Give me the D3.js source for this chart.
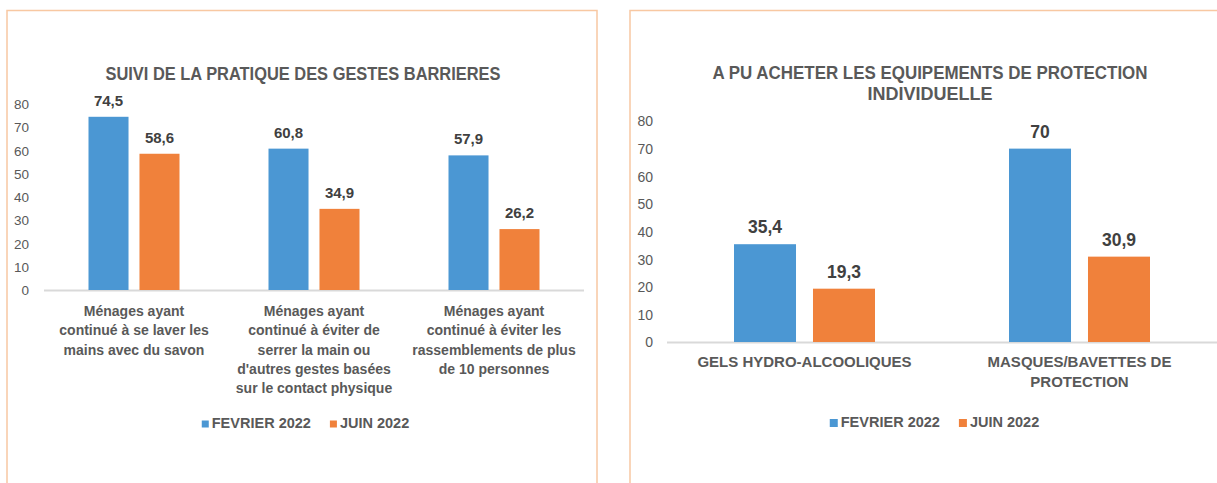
<!DOCTYPE html>
<html lang="fr">
<head>
<meta charset="UTF-8">
<title>gestes barrieres</title>
<script src="https://cdn.jsdelivr.net/npm/d3@7"></script>
<style>
    body{ margin:0; background:#fff; }
    svg{ display:block; font-family:"Liberation Sans", Arial, sans-serif; }
    .tick text{ fill:#595959; }
</style>
</head>
<body>
<svg id="fig" width="1217" height="483"></svg>
<script>
    // data
    const series = ["FEVRIER 2022", "JUIN 2022"]
    const colors = ["#4b97d3", "#f0813b"]

    const cats1 = [
        ["Ménages ayant", "continué à se laver les", "mains avec du savon"],
        ["Ménages ayant", "continué à éviter de", "serrer la main ou", "d'autres gestes basées", "sur le contact physique"],
        ["Ménages ayant", "continué à éviter les", "rassemblements de plus", "de 10 personnes"]
    ]
    const fev1 = [74.5, 60.8, 57.9]
    const juin1 = [58.6, 34.9, 26.2]

    const cats2 = [
        ["GELS HYDRO-ALCOOLIQUES"],
        ["MASQUES/BAVETTES DE", "PROTECTION"]
    ]
    const fev2 = [35.4, 70]
    const juin2 = [19.3, 30.9]

    const yTicks = [0, 10, 20, 30, 40, 50, 60, 70, 80]

    const svg = d3.select("#fig")
    const fmt = v => String(v).replace(".", ",")

    // panel frames
    function frame(x0, x1, closeRight){
        let p = d3.path()
        p.moveTo(x0, 483); p.lineTo(x0, 10.5); p.lineTo(x1, 10.5)
        if (closeRight) p.lineTo(x1, 483)
        svg.append("path").attr("d", p.toString())
            .attr("fill", "none").attr("stroke", "#f8c8a2").attr("stroke-width", 1.5)
    }
    frame(7, 597, true)
    frame(630, 1220, false)

    function chart(o){
        let g = svg.append("g")
        let data = o.cats.map((c, i) => ({cat: i, vals: [o.fev[i], o.juin[i]]}))

        let x = d3.scaleBand().domain(d3.range(o.cats.length)).range([o.x0, o.x1])
        let xs = d3.scaleBand().domain(series).range([-o.half, o.half]).paddingInner(0.215)
        let y = d3.scaleLinear().domain([0, 80]).range([o.base, o.top])

        // y axis labels
        let ax = g.append("g").attr("transform", `translate(${o.x0},0)`)
            .call(d3.axisLeft(y).tickValues(yTicks).tickSize(0).tickPadding(o.tickPad))
        ax.select(".domain").remove()
        ax.selectAll("text").attr("font-size", o.tickSize).attr("dy", "0.35em")

        // baseline
        g.append("line").attr("x1", o.x0).attr("x2", o.axEnd)
            .attr("y1", y(0) + 0.5).attr("y2", y(0) + 0.5)
            .attr("stroke", "#d9d9d9").attr("stroke-width", 1.8)

        let grp = g.selectAll(".grp").data(data).join("g")
            .attr("transform", d => `translate(${x(d.cat) + x.bandwidth() / 2},0)`)

        grp.selectAll("rect").data(d => d.vals.map((v, i) => ({s: series[i], v: v, i: i})))
            .join("rect")
            .attr("x", d => xs(d.s))
            .attr("width", xs.bandwidth())
            .attr("y", d => y(d.v))
            .attr("height", d => y(0) - y(d.v))
            .attr("fill", d => colors[d.i])

        grp.selectAll(".val").data(d => d.vals.map((v, i) => ({s: series[i], v: v})))
            .join("text").attr("class", "val")
            .attr("x", d => xs(d.s) + xs.bandwidth() / 2)
            .attr("y", d => y(d.v) - o.valGap)
            .attr("text-anchor", "middle")
            .attr("font-size", o.valSize).attr("font-weight", "bold")
            .attr("fill", "#404040")
            .text(d => fmt(d.v))

        // category labels
        grp.each(function (d){
            let t = d3.select(this).append("text")
                .attr("text-anchor", "middle").attr("font-size", o.catSize)
                .attr("font-weight", "bold").attr("fill", "#595959")
            o.cats[d.cat].forEach((line, k) => {
                t.append("tspan").attr("x", 0).attr("y", o.catY + k * o.catLH).text(line)
            })
        })

        // title
        o.title.forEach((line, k) => {
            let t = g.append("text").attr("x", o.titleX).attr("y", o.titleY + k * 21)
                .attr("text-anchor", "middle").attr("font-size", 18)
                .attr("font-weight", "bold").attr("fill", "#595959").text(line)
            if (o.titleLen[k]) t.attr("textLength", o.titleLen[k]).attr("lengthAdjust", "spacingAndGlyphs")
        })

        // legend
        let lg = g.append("g")
        let cx = 0
        series.forEach((s, i) => {
            lg.append("rect").attr("x", cx).attr("y", o.legY - o.sq / 2 - 4).attr("width", o.sq).attr("height", o.sq)
                .attr("fill", colors[i])
            let t = lg.append("text").attr("x", cx + o.sq + 3).attr("y", o.legY)
                .attr("font-size", o.legSize).attr("font-weight", "bold").attr("fill", "#595959").text(s)
            cx += o.sq + 3 + t.node().getComputedTextLength() + 19
        })
        let w = cx - 19
        lg.attr("transform", `translate(${o.legX - w / 2},0)`)
    }

    chart({
        cats: cats1, fev: fev1, juin: juin1,
        x0: 44, x1: 584, axEnd: 584, half: 45.5,
        base: 290, top: 104, tickPad: 15, tickSize: 13.5,
        valSize: 15, valGap: 11,
        catSize: 14, catY: 316, catLH: 19.3,
        title: ["SUIVI DE LA PRATIQUE DES GESTES BARRIERES"], titleX: 303, titleY: 80, titleLen: [395],
        legX: 305.5, legY: 428, legSize: 14.5, sq: 7
    })

    chart({
        cats: cats2, fev: fev2, juin: juin2,
        x0: 667, x1: 1217, axEnd: 1217, half: 70.5,
        base: 342, top: 121, tickPad: 14, tickSize: 14,
        valSize: 17.5, valGap: 11,
        catSize: 15, catY: 367, catLH: 20,
        title: ["A PU ACHETER LES EQUIPEMENTS DE PROTECTION", "INDIVIDUELLE"], titleX: 930, titleY: 79, titleLen: [435, 0],
        legX: 934.5, legY: 427, legSize: 14.5, sq: 8
    })
</script>
</body>
</html>
